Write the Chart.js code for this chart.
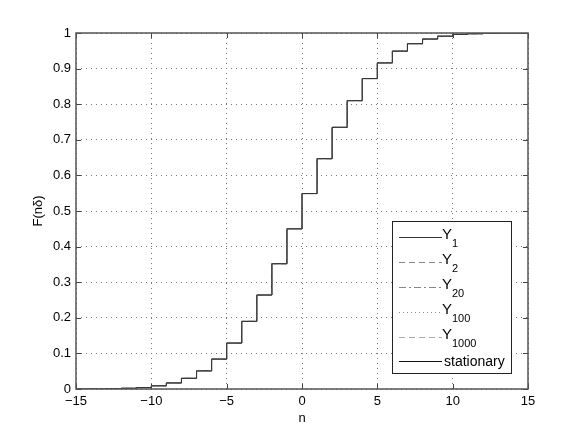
<!DOCTYPE html>
<html>
<head>
<meta charset="UTF-8">
<title>F(nδ)</title>
<script src="https://cdn.jsdelivr.net/npm/chart.js@4/dist/chart.umd.min.js"></script>
<style>
  html, body { margin: 0; padding: 0; background: #fff; }
  #wrap { width: 584px; height: 439px; }
</style>
</head>
<body>
<div id="wrap"><canvas id="cdf" width="584" height="439"></canvas></div>
<script>
// step positions (n) and F(nδ) held from each n up to the next one
const nValues = [-15, -13, -12, -11, -10, -9, -8, -7, -6, -5, -4, -3, -2, -1, 0, 1, 2, 3, 4, 5, 6, 7, 8, 9, 10, 11, 12, 13, 15];
const stationary = [0, 0.001, 0.002, 0.004, 0.009, 0.017, 0.030, 0.051, 0.084, 0.129, 0.190, 0.264, 0.352, 0.450, 0.549, 0.647, 0.735, 0.810, 0.872, 0.916, 0.949, 0.970, 0.983, 0.991, 0.996, 0.998, 0.999, 1, 1];
// the transient distributions lie on top of the stationary one
const Y1 = stationary, Y2 = stationary, Y20 = stationary, Y100 = stationary, Y1000 = stationary;

const xTicks = [-15, -10, -5, 0, 5, 10, 15];
const yTicks = [0, 0.1, 0.2, 0.3, 0.4, 0.5, 0.6, 0.7, 0.8, 0.9, 1];

const legendItems = [
  { main: 'Y', sub: '1', dash: [], color: '#333' },
  { main: 'Y', sub: '2', dash: [6, 4], color: '#888' },
  { main: 'Y', sub: '20', dash: [7, 3, 2, 3], color: '#888' },
  { main: 'Y', sub: '100', dash: [1, 3], color: '#888' },
  { main: 'Y', sub: '1000', dash: [6, 4], color: '#aaa' },
  { main: 'stationary', sub: '', dash: [], color: '#111' }
];

const pts = arr => nValues.map((n, i) => ({ x: n, y: arr[i] }));

function series(label, arr, color, dash) {
  return {
    label: label, data: pts(arr), borderColor: color, borderDash: dash,
    borderWidth: 1, pointRadius: 0, stepped: 'before', fill: false
  };
}

const frame = {
  id: 'frame',
  afterDraw(chart) {
    const { ctx, chartArea: a, scales: { x, y } } = chart;
    ctx.save();
    // ticks pointing inside, on all four sides
    ctx.strokeStyle = '#444';
    ctx.lineWidth = 1;
    ctx.beginPath();
    xTicks.forEach(v => {
      const px = Math.round(x.getPixelForValue(v)) + 0.5;
      ctx.moveTo(px, a.bottom); ctx.lineTo(px, a.bottom - 5);
      ctx.moveTo(px, a.top); ctx.lineTo(px, a.top + 5);
    });
    yTicks.forEach(v => {
      const py = Math.round(y.getPixelForValue(v)) + 0.5;
      ctx.moveTo(a.left, py); ctx.lineTo(a.left + 5, py);
      ctx.moveTo(a.right, py); ctx.lineTo(a.right - 5, py);
    });
    ctx.stroke();
    ctx.lineWidth = 1.5;
    ctx.strokeStyle = '#555';
    ctx.strokeRect(a.left, a.top, a.right - a.left, a.bottom - a.top);

    // legend box
    const bx = 392, by = 221, bw = 119, bh = 152;
    ctx.fillStyle = '#fff';
    ctx.fillRect(bx, by, bw, bh);
    ctx.lineWidth = 1;
    ctx.strokeStyle = '#222';
    ctx.strokeRect(bx + 0.5, by + 0.5, bw, bh);
    const rows = [237, 262, 287, 312, 337, 361];
    legendItems.forEach((it, i) => {
      const ly = rows[i] + 0.5;
      ctx.beginPath();
      ctx.setLineDash(it.dash);
      ctx.strokeStyle = it.color;
      ctx.moveTo(399, ly); ctx.lineTo(442, ly);
      ctx.stroke();
      ctx.setLineDash([]);
      ctx.fillStyle = '#000';
      ctx.textBaseline = 'middle';
      ctx.textAlign = 'left';
      if (it.sub) {
        ctx.font = '15px "Liberation Sans", Arial, sans-serif';
        ctx.fillText(it.main, 442, rows[i] - 2);
        const w = ctx.measureText(it.main).width;
        ctx.font = '11px "Liberation Sans", Arial, sans-serif';
        ctx.fillText(it.sub, 442 + w, rows[i] + 7);
      } else {
        ctx.font = '14px "Liberation Sans", Arial, sans-serif';
        ctx.fillText(it.main, 444, rows[i] + 1);
      }
    });
    ctx.restore();
  }
};

const tickFont = { family: '"Liberation Sans", Arial, sans-serif', size: 13 };

new Chart(document.getElementById('cdf'), {
  type: 'line',
  data: {
    datasets: [
      series('Y1', Y1, '#333', []),
      series('Y2', Y2, '#888', [6, 4]),
      series('Y20', Y20, '#888', [7, 3, 2, 3]),
      series('Y100', Y100, '#888', [1, 3]),
      series('Y1000', Y1000, '#aaa', [6, 4]),
      series('stationary', stationary, '#000', [])
    ]
  },
  options: {
    responsive: false,
    animation: false,
    layout: { padding: { left: 0, top: 33, right: 56, bottom: 0 } },
    plugins: { legend: { display: false }, tooltip: { enabled: false } },
    scales: {
      x: {
        type: 'linear', min: -15, max: 15,
        afterBuildTicks: s => { s.ticks = xTicks.map(v => ({ value: v })); },
        afterFit: s => { s.height = 50; },
        ticks: {
          color: '#000', font: tickFont, padding: 5, maxRotation: 0,
          callback: v => String(v).replace('-', '\u2212')
        },
        grid: { color: '#777', drawTicks: false, lineWidth: 1 },
        border: { display: false, dash: [1, 4] },
        title: { display: true, text: 'n', color: '#000', font: { family: tickFont.family, size: 13 }, padding: { top: 0, bottom: 13 } }
      },
      y: {
        min: 0, max: 1,
        afterBuildTicks: s => { s.ticks = yTicks.map(v => ({ value: v })); },
        afterFit: s => { s.width = 76; },
        ticks: { color: '#000', font: tickFont, padding: 5, callback: v => String(+v.toFixed(1)) },
        grid: { color: '#777', drawTicks: false, lineWidth: 1 },
        border: { display: false, dash: [1, 4] },
        title: { display: true, text: 'F(nδ)', color: '#000', font: { family: tickFont.family, size: 13 }, padding: { top: 31, bottom: 0 } }
      }
    }
  },
  plugins: [frame]
});
</script>
</body>
</html>
